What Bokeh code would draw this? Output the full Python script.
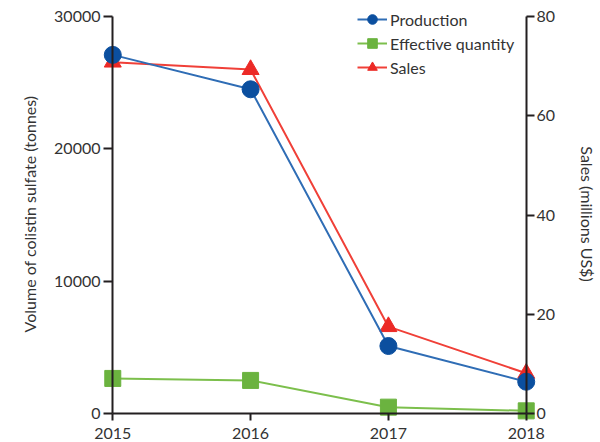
from bokeh.plotting import figure
from bokeh.models import LinearAxis, Range1d, FixedTicker, Legend, LegendItem
from bokeh.embed import file_html
from bokeh.resources import INLINE

years = [2015, 2016, 2017, 2018]
production = [27100, 24500, 5100, 2400]
effective = [2650, 2500, 480, 200]
sales = [70.8, 69.3, 17.5, 8.1]
year_ticks = [2015, 2016, 2017, 2018]
volume_ticks = [0, 10000, 20000, 30000]
sales_ticks = [0, 20, 40, 60, 80]

FONT = "Lato"
TXT = "#333333"
AX = "#231f20"
BLUE, BLUE_L = "#0b4f9f", "#2f6db5"
GREEN, GREEN_L = "#6bb33f", "#7cbf4c"
RED, RED_L = "#ec2a26", "#f04038"

# frame geometry (px)
px_per_year = 140.0
xpad_px = 14.5
vol_max = 30000
vol_px = 397.0
ypad_px = 12.0
ytop_px = 14.0
sales_max = 80

x0 = years[0] - xpad_px / px_per_year
x1 = years[-1] + xpad_px / px_per_year
y0 = -ypad_px * vol_max / vol_px
y1 = vol_max + ytop_px * vol_max / vol_px
s0 = y0 * sales_max / vol_max
s1 = y1 * sales_max / vol_max

p = figure(width=600, height=442, output_backend="svg", toolbar_location=None,
           x_range=Range1d(x0, x1), y_range=Range1d(y0, y1),
           x_axis_type=None, y_axis_type=None,
           min_border_left=98, min_border_right=53,
           min_border_top=2, min_border_bottom=17)
p.extra_y_ranges = {"sales": Range1d(s0, s1)}
p.grid.visible = False
p.outline_line_color = None
p.background_fill_color = "white"
p.border_fill_color = "white"


def text_style(ax):
    ax.major_label_text_font = FONT
    ax.major_label_text_font_size = "16px"
    ax.major_label_text_color = TXT
    ax.axis_label_text_font = FONT
    ax.axis_label_text_font_size = "16px"
    ax.axis_label_text_font_style = "normal"
    ax.axis_label_text_color = TXT


def line_axis(ax, ticks, tick_out):
    ax.ticker = FixedTicker(ticks=ticks)
    ax.axis_line_color = AX
    ax.axis_line_width = 2
    ax.major_tick_line_color = AX
    ax.major_tick_line_width = 2
    ax.major_tick_in = 0
    ax.major_tick_out = tick_out
    ax.minor_tick_line_color = None
    ax.major_label_text_color = None


def label_axis(ax, ticks, standoff):
    ax.ticker = FixedTicker(ticks=ticks)
    ax.axis_line_color = None
    ax.major_tick_line_color = None
    ax.minor_tick_line_color = None
    ax.major_tick_in = 0
    ax.major_tick_out = 0
    ax.major_label_standoff = standoff
    text_style(ax)


# axis lines + ticks drawn at the data positions
xax = LinearAxis(fixed_location=0, bounds=(years[0], years[-1]))
line_axis(xax, year_ticks, 7)
p.add_layout(xax, "below")

yax = LinearAxis(fixed_location=years[0], bounds=(0, vol_max))
line_axis(yax, volume_ticks, 9)
p.add_layout(yax, "left")

rax = LinearAxis(y_range_name="sales", fixed_location=years[-1], bounds=(0, sales_max))
line_axis(rax, sales_ticks, 8)
p.add_layout(rax, "right")

# tick labels and axis titles in the side panels
xlab = LinearAxis()
label_axis(xlab, year_ticks, 2)
p.add_layout(xlab, "below")

ylab = LinearAxis(axis_label="Volume of colistin sulfate (tonnes)")
label_axis(ylab, volume_ticks, -2)
ylab.axis_label_standoff = 12
p.add_layout(ylab, "left")

rlab = LinearAxis(y_range_name="sales", axis_label="Sales (millions US$)")
label_axis(rlab, sales_ticks, -4)
rlab.axis_label_standoff = 20
p.add_layout(rlab, "right")

# series (sales first so production sits on top)
sl = p.line(years, sales, y_range_name="sales", line_color=RED_L, line_width=2)
ss = p.scatter(years, sales, y_range_name="sales", marker="triangle", size=17,
               fill_color=RED, line_color=RED)
el = p.line(years, effective, line_color=GREEN_L, line_width=2)
es = p.scatter(years, effective, marker="square", size=16,
               fill_color=GREEN, line_color=GREEN)
pl = p.line(years, production, line_color=BLUE_L, line_width=2)
ps = p.scatter(years, production, marker="circle", size=17,
               fill_color=BLUE, line_color=BLUE)

legend = Legend(items=[
    LegendItem(label="Production", renderers=[pl, ps]),
    LegendItem(label="Effective quantity", renderers=[el, es]),
    LegendItem(label="Sales", renderers=[sl, ss]),
], location=(259, 346))
legend.background_fill_alpha = 0
legend.border_line_color = None
legend.padding = 0
legend.margin = 0
legend.spacing = 0
legend.glyph_width = 30
legend.glyph_height = 24
legend.label_height = 24
legend.label_standoff = 3
legend.label_text_font = FONT
legend.label_text_font_size = "16px"
legend.label_text_color = TXT
p.add_layout(legend, "center")

open("out.html", "w").write(file_html(p, INLINE))
